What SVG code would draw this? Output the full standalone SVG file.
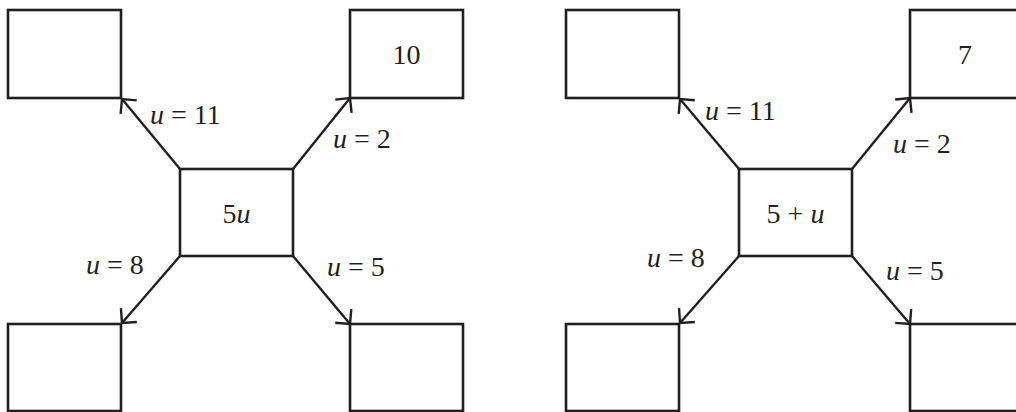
<svg xmlns="http://www.w3.org/2000/svg" width="1016" height="412" viewBox="0 0 1016 412">
<style>
.box{fill:#fff;stroke:#231f20;stroke-width:2.6}
.con{stroke:#231f20;stroke-width:2.4;fill:none;marker-end:url(#ah)}
text{font-family:"Liberation Serif","Times New Roman",serif;font-size:28px;fill:#231f20}
.i{font-style:italic}
.c{text-anchor:middle}
</style>
<defs>
<marker id="ah" markerUnits="userSpaceOnUse" viewBox="-12 -12 14 24" refX="0" refY="0" markerWidth="14" markerHeight="24" orient="auto" overflow="visible">
<path d="M-10.5,-10.5 L0,0 L-10.5,10.5" fill="none" stroke="#231f20" stroke-width="2.4"/>
</marker>
</defs>
<rect width="1016" height="412" fill="#fff"/>
<g id="left">
<g id="L-tl"><rect class="box" x="8" y="10" width="113" height="88"/></g>
<g id="L-tr"><rect class="box" x="350" y="10" width="113" height="88"/><text class="c" x="406.5" y="64">10</text></g>
<g id="L-c"><rect class="box" x="180" y="169" width="113" height="87"/><text class="c" x="236.5" y="223">5<tspan class="i">u</tspan></text></g>
<g id="L-bl"><rect class="box" x="8" y="324" width="113" height="87"/></g>
<g id="L-br"><rect class="box" x="350" y="324" width="113" height="87"/></g>
</g>
<g id="right">
<g id="R-tl"><rect class="box" x="566" y="10" width="113" height="88"/></g>
<g id="R-tr"><rect class="box" x="910" y="10" width="113" height="88"/><text class="c" x="965" y="64">7</text></g>
<g id="R-c"><rect class="box" x="739" y="169" width="113" height="87"/><text class="c" x="795.5" y="223">5 + <tspan class="i">u</tspan></text></g>
<g id="R-bl"><rect class="box" x="566" y="324" width="113" height="87"/></g>
<g id="R-br"><rect class="box" x="910" y="324" width="113" height="87"/></g>
</g>
<g id="connectors">
<line class="con" x1="180" y1="169" x2="122" y2="99"/>
<line class="con" x1="293" y1="169" x2="350" y2="98"/>
<line class="con" x1="180" y1="256" x2="122" y2="323"/>
<line class="con" x1="293" y1="256" x2="350" y2="324"/>
<line class="con" x1="739" y1="169" x2="680" y2="99"/>
<line class="con" x1="852" y1="169" x2="910" y2="98"/>
<line class="con" x1="739" y1="256" x2="680" y2="323"/>
<line class="con" x1="852" y1="256" x2="910" y2="324"/>
</g>
<g id="labels">
<text x="150" y="124"><tspan class="i">u</tspan> = 11</text>
<text x="333" y="148"><tspan class="i">u</tspan> = 2</text>
<text x="86" y="274"><tspan class="i">u</tspan> = 8</text>
<text x="327" y="276"><tspan class="i">u</tspan> = 5</text>
<text x="705" y="120"><tspan class="i">u</tspan> = 11</text>
<text x="893" y="153"><tspan class="i">u</tspan> = 2</text>
<text x="647" y="267"><tspan class="i">u</tspan> = 8</text>
<text x="886" y="280"><tspan class="i">u</tspan> = 5</text>
</g>
</svg>
